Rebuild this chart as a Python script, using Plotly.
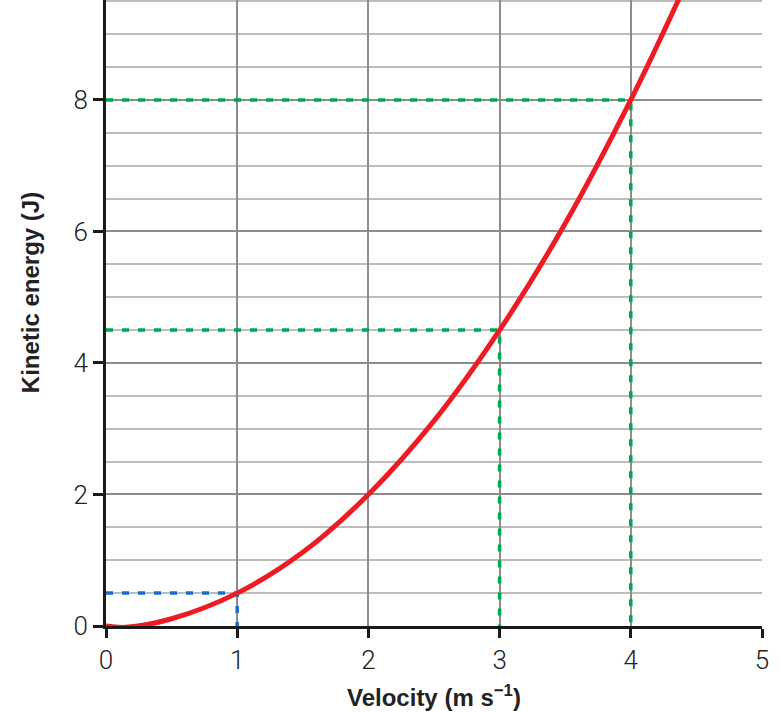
import plotly.graph_objects as go

# Curve values (velocity in m/s, kinetic energy in J)
velocity = [0, 0.15, 0.5, 1.0, 1.5, 2.0, 2.5, 3.0, 3.5, 4.0, 4.37]
energy = [0, -0.02, 0.11, 0.5, 1.12, 2.0, 3.12, 4.5, 6.12, 8.0, 9.55]

# Read-off guide points
guide_v = [1, 3, 4]
guide_e = [0.5, 4.5, 8]
guide_colors = ["#1a6fc2", "#00a651", "#00a651"]

x_ticks = [0, 1, 2, 3, 4, 5]
y_ticks = [0, 2, 4, 6, 8]

fig = go.Figure()

for v, e, c in zip(guide_v, guide_e, guide_colors):
    fig.add_trace(go.Scatter(
        x=[0, v, v], y=[e, e, 0], mode="lines",
        line=dict(color=c, width=3.5, dash="7px,9px"),
        hoverinfo="skip", showlegend=False))

fig.add_trace(go.Scatter(
    x=velocity, y=energy, mode="lines",
    line=dict(color="#ed1c24", width=5, shape="spline", smoothing=1.0),
    showlegend=False))

tick_font = dict(family="Roboto, Open Sans, DejaVu Sans, sans-serif", size=26,
                 color="#222222", weight=300)
title_font = dict(family="Liberation Sans Narrow, Liberation Sans, Arial Narrow, sans-serif",
                  size=24, color="#222222")

fig.update_layout(
    width=781, height=713,
    margin=dict(l=106, r=19, t=0, b=87),
    paper_bgcolor="white", plot_bgcolor="white",
    xaxis=dict(
        range=[0, 5], tickvals=x_ticks, ticktext=[str(t) for t in x_ticks],
        showgrid=True, gridcolor="#8c8c8c", gridwidth=2,
        showline=True, linecolor="#1a1a1a", linewidth=3,
        ticks="outside", ticklen=9, tickwidth=2.5, tickcolor="#1a1a1a",
        tickfont=tick_font, zeroline=False, fixedrange=True,
    ),
    yaxis=dict(
        range=[0, 9.52], tickvals=y_ticks, ticktext=[str(t) for t in y_ticks],
        showgrid=True, gridcolor="#8c8c8c", gridwidth=2,
        minor=dict(dtick=0.5, tick0=0, showgrid=True, gridcolor="#bdbdbd", gridwidth=1.5, ticks=""),
        showline=True, linecolor="#1a1a1a", linewidth=3,
        ticks="outside", ticklen=10, tickwidth=2.5, tickcolor="#1a1a1a",
        tickfont=tick_font, zeroline=False, fixedrange=True,
    ),
    annotations=[
        dict(text="<b>Velocity (m s<sup>−1</sup>)</b>", x=0.5, xref="paper",
             y=-0.112, yref="paper", yanchor="middle", xanchor="center",
             showarrow=False, font=title_font),
        dict(text="<b>Kinetic energy (J)</b>", x=-0.114, xref="paper",
             y=0.532, yref="paper", textangle=-90, xanchor="center", yanchor="middle",
             showarrow=False, font=title_font),
    ],
)

fig.write_html("out.html")
